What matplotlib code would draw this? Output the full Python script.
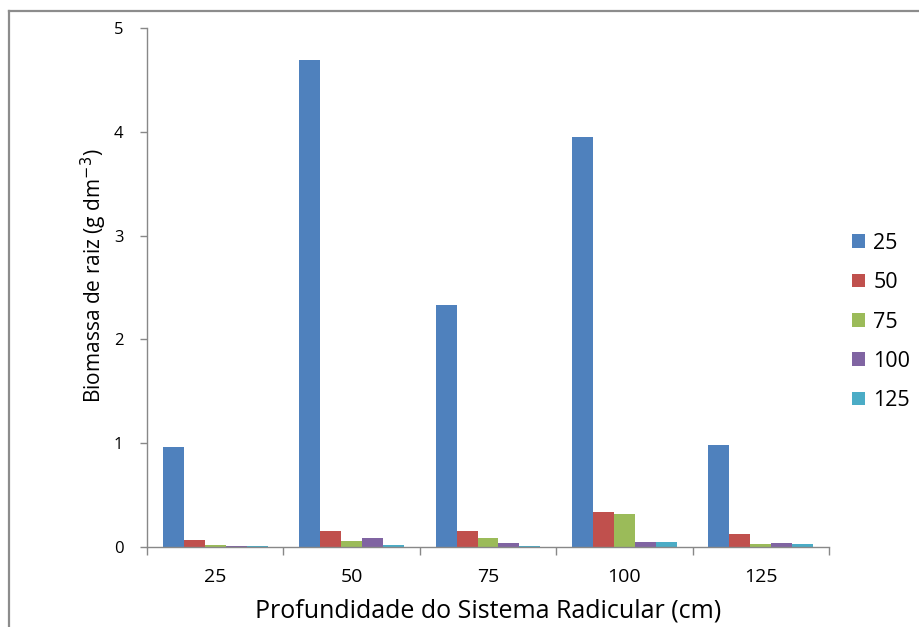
import matplotlib
matplotlib.use("Agg")
import matplotlib.pyplot as plt
import numpy as np
from matplotlib.lines import Line2D

plt.rcParams['font.family'] = ['Open Sans', 'DejaVu Sans']

categories = ["25", "50", "75", "100", "125"]
series_names = ["25", "50", "75", "100", "125"]
s25 = [0.96, 4.69, 2.33, 3.95, 0.98]
s50 = [0.07, 0.15, 0.15, 0.34, 0.125]
s75 = [0.02, 0.06, 0.09, 0.32, 0.025]
s100 = [0.01, 0.09, 0.035, 0.05, 0.035]
s125 = [0.01, 0.02, 0.01, 0.05, 0.03]
series = [s25, s50, s75, s100, s125]
colors = ["#4F81BD", "#C0504D", "#9BBB59", "#8064A2", "#4BACC6"]

fig = plt.figure(figsize=(9.2, 6.27), dpi=100)
ax = fig.add_axes([147/920, 1-547/627, (829-147)/920, (547-28)/627])

n = len(series)
bw = 1/6.5
x = np.arange(len(categories))
for i, (vals, c, name) in enumerate(zip(series, colors, series_names)):
    ax.bar(x + (i - (n-1)/2)*bw, vals, width=bw, color=c, label=name, zorder=2)

ax.set_xlim(-0.5, len(categories)-0.5)
ax.set_ylim(0, 5)
ax.set_yticks([0, 1, 2, 3, 4, 5])
ax.set_xticks(x)
ax.set_xticklabels(categories)
ax.set_xticks(np.arange(-0.5, len(categories), 1.0), minor=True)
ax.tick_params(axis='x', which='major', length=0, pad=15, labelsize=14)
ax.tick_params(axis='x', which='minor', length=6, color='#888888', width=1)
ax.tick_params(axis='y', length=5, color='#888888', width=1, labelsize=12, pad=12)

for s in ['top', 'right']:
    ax.spines[s].set_visible(False)
for s in ['left', 'bottom']:
    ax.spines[s].set_color('#888888')
    ax.spines[s].set_linewidth(1)

ax.set_xlabel("Profundidade do Sistema Radicular (cm)", fontsize=18, labelpad=9)
ax.set_ylabel("Biomassa de raiz (g dm$^{-3}$)", fontsize=15, labelpad=3)
ax.yaxis.set_label_coords(-0.055, 0.523)

leg = fig.legend(loc='center left', bbox_to_anchor=(843/920, 1-322/627), frameon=False,
                 fontsize=15.5, handlelength=0.6, handleheight=0.6, handletextpad=0.4,
                 labelspacing=0.85, borderaxespad=0)

fig.add_artist(Line2D([9.5/920, 1], [1-10.5/627, 1-10.5/627], transform=fig.transFigure,
                      color='#8c8c8c', lw=1.6))
fig.add_artist(Line2D([9.5/920, 9.5/920], [0, 1-10.5/627], transform=fig.transFigure,
                      color='#8c8c8c', lw=1.6))

fig.savefig("out.png", dpi=100)
